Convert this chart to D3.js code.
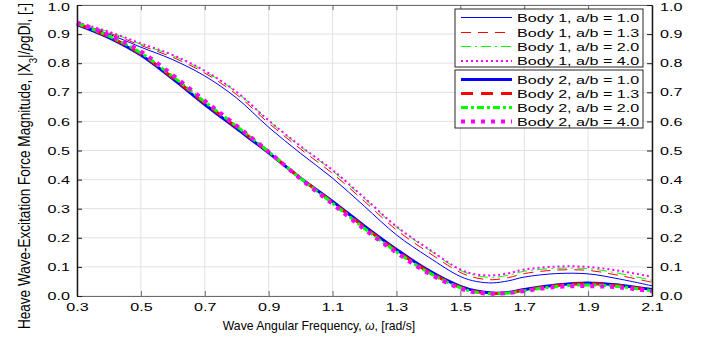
<!DOCTYPE html>
<html><head><meta charset="utf-8">
<script src="https://cdn.jsdelivr.net/npm/d3@7"></script>
<style>
html,body{margin:0;padding:0;background:#fff;}
svg{display:block;font-family:"Liberation Sans",Arial,Helvetica,sans-serif;}
</style></head>
<body><svg id="c" width="703" height="343"></svg>
<script>
// ---- data ----
const omega = [0.3,0.4,0.5,0.6,0.7,0.8,0.9,1.0,1.1,1.2,1.3,1.4,1.5,1.55,1.6,1.65,1.7,1.8,1.9,2.0,2.1];
// Body 1
const body1_ab10 = [0.935,0.900,0.855,0.812,0.756,0.680,0.580,0.490,0.405,0.308,0.210,0.134,0.067,0.050,0.045,0.052,0.065,0.077,0.076,0.058,0.035];
const body1_ab13 = [0.936,0.904,0.861,0.820,0.766,0.692,0.594,0.505,0.421,0.325,0.227,0.150,0.081,0.062,0.056,0.063,0.077,0.089,0.088,0.070,0.047];
const body1_ab20 = [0.938,0.907,0.865,0.826,0.772,0.700,0.602,0.513,0.430,0.334,0.237,0.160,0.088,0.070,0.064,0.071,0.085,0.095,0.094,0.077,0.054];
const body1_ab40 = [0.940,0.908,0.868,0.828,0.774,0.701,0.603,0.515,0.433,0.337,0.239,0.162,0.091,0.074,0.071,0.078,0.091,0.101,0.100,0.086,0.066];
// Body 2
const body2_ab10 = [0.933,0.888,0.828,0.746,0.658,0.575,0.492,0.405,0.325,0.240,0.160,0.088,0.033,0.017,0.010,0.012,0.022,0.038,0.045,0.037,0.022];
const body2_ab13 = [0.935,0.891,0.832,0.750,0.663,0.580,0.495,0.405,0.322,0.236,0.156,0.084,0.030,0.015,0.009,0.011,0.020,0.036,0.042,0.035,0.020];
const body2_ab20 = [0.937,0.893,0.835,0.754,0.667,0.583,0.496,0.404,0.319,0.232,0.152,0.081,0.028,0.013,0.008,0.010,0.018,0.033,0.038,0.032,0.018];
const body2_ab40 = [0.940,0.897,0.840,0.759,0.671,0.585,0.496,0.402,0.316,0.229,0.149,0.078,0.026,0.012,0.008,0.010,0.017,0.031,0.034,0.029,0.016];

const seriesNames = ["Body 1, a/b = 1.0","Body 1, a/b = 1.3","Body 1, a/b = 2.0","Body 1, a/b = 4.0",
                     "Body 2, a/b = 1.0","Body 2, a/b = 1.3","Body 2, a/b = 2.0","Body 2, a/b = 4.0"];
const seriesValues = [body1_ab10,body1_ab13,body1_ab20,body1_ab40,body2_ab10,body2_ab13,body2_ab20,body2_ab40];
const xTicks = [0.3,0.5,0.7,0.9,1.1,1.3,1.5,1.7,1.9,2.1];
const yTicks = [0.0,0.1,0.2,0.3,0.4,0.5,0.6,0.7,0.8,0.9,1.0];

// ---- styles ----
const styles = [
  {c:"#0000ff", w:1,   d:null},
  {c:"#ff0000", w:1,   d:"10,7"},
  {c:"#00ff00", w:1,   d:"10,4,2,4"},
  {c:"#ff00ff", w:2,   d:"2,3"},
  {c:"#0000ff", w:3,   d:null},
  {c:"#ff0000", w:3,   d:"12,8"},
  {c:"#00ff00", w:3,   d:"7,3,3,3"},
  {c:"#ff00ff", w:4,   d:"4,6"}
];

const SX = 1.4, FS = 11.5;
const L = 77, R = 652, T = 5, B = 296;
const svg = d3.select("#c");
const x = d3.scaleLinear().domain([0.3,2.1]).range([L,R]);
const y = d3.scaleLinear().domain([0,1]).range([B,T]);

// grid
const g = svg.append("g");
g.selectAll(".gx").data(xTicks).enter().append("line")
  .attr("x1",d=>x(d)).attr("x2",d=>x(d)).attr("y1",T).attr("y2",B)
  .attr("stroke","#e2e2e2").attr("stroke-width",1);
g.selectAll(".gy").data(yTicks).enter().append("line")
  .attr("x1",L).attr("x2",R).attr("y1",d=>y(d)).attr("y2",d=>y(d))
  .attr("stroke","#e2e2e2").attr("stroke-width",1);

// lines
const line = d3.line().x(d=>x(d[0])).y(d=>y(d[1])).curve(d3.curveCatmullRom.alpha(0.5));
seriesValues.forEach((vals,i)=>{
  const s = styles[i];
  svg.append("path").datum(omega.map((o,k)=>[o,vals[k]]))
    .attr("d",line).attr("fill","none")
    .attr("stroke",s.c).attr("stroke-width",s.w)
    .attr("stroke-dasharray",s.d);
});

// axes
function styleAxis(sel, color, lineW){
  sel.select(".domain").attr("stroke",color).attr("stroke-width",lineW);
  sel.selectAll(".tick line").attr("stroke",color);
  sel.selectAll(".tick text").attr("fill","#000").style("font-size",FS+"px")
     .style("font-family",'"Liberation Sans",Arial,sans-serif');
}
const fmt = d3.format(".1f");
const axB = svg.append("g").attr("transform",`translate(0,${B})`)
  .call(d3.axisBottom(x).tickValues(xTicks).tickFormat(fmt).tickSizeInner(-5).tickSizeOuter(0).tickPadding(6));
styleAxis(axB,"#6b6b6b",1);
axB.selectAll(".tick text").attr("transform",`scale(${SX},1)`).attr("y",7).attr("dy","0.71em");
const axT = svg.append("g").attr("transform",`translate(0,${T})`)
  .call(d3.axisTop(x).tickValues(xTicks).tickFormat("").tickSizeInner(-5).tickSizeOuter(0));
styleAxis(axT,"#6b6b6b",1);
const axL = svg.append("g").attr("transform",`translate(${L},0)`)
  .call(d3.axisLeft(y).tickValues(yTicks).tickFormat(fmt).tickSizeInner(-5).tickSizeOuter(0));
styleAxis(axL,"#1a1a1a",1.5);
axL.selectAll(".tick text").attr("transform",`scale(${SX},1)`).attr("x",-7/SX);
const axR = svg.append("g").attr("transform",`translate(${R},0)`)
  .call(d3.axisRight(y).tickValues(yTicks).tickFormat(fmt).tickSizeInner(-5).tickSizeOuter(0));
styleAxis(axR,"#1a1a1a",1.5);
axR.selectAll(".tick text").attr("transform",`scale(${SX},1)`).attr("x",8/SX);
// keep the top labels inside the picture
[axL,axR].forEach(a=>a.selectAll(".tick").filter(d=>d===1.0).select("text").attr("dy","0.5em"));

// x label (three pieces so the italic omega sits in between)
const xlParts = ["Wave Angular Frequency, ", "ω", ", [rad/s]"];
const xlFs = 12.2, xlY = 330;
const xlg = svg.append("g");
const pieces = xlParts.map((t,i)=>xlg.append("text").attr("y",xlY)
  .style("font-size",xlFs+"px").attr("fill","#000")
  .style("font-style", i===1 ? "italic" : "normal")
  .style("white-space","pre").attr("xml:space","preserve").text(t));
const widths = pieces.map(p=>p.node().getComputedTextLength());
const total = widths.reduce((a,b)=>a+b,0);
let cx = 319 - total/2;
pieces.forEach((p,i)=>{ p.attr("x",cx); cx += widths[i]; });

// y label
const yl = svg.append("text")
  .attr("transform",`translate(30,166) scale(1.3,1) rotate(-90)`)
  .attr("text-anchor","middle").style("font-size","12.5px").attr("fill","#000")
  .attr("textLength",326).attr("lengthAdjust","spacingAndGlyphs");
yl.append("tspan").text("Heave Wave-Excitation Force Magnitude, |X");
yl.append("tspan").attr("baseline-shift","sub").style("font-size","9px").text("3");
yl.append("tspan").text("|/");
yl.append("tspan").attr("font-style","italic").text("ρ");
yl.append("tspan").text("gDl, [-]");

// legend
const boxes = [{y:9,h:58,idx:[0,1,2,3],rows:[17.5,32.5,46.5,61]},{y:70,h:58,idx:[4,5,6,7],rows:[79.5,93.5,107.5,121.5]}];
boxes.forEach(b=>{
  const lg = svg.append("g");
  lg.append("rect").attr("x",455).attr("y",b.y).attr("width",188).attr("height",b.h)
    .attr("fill","#fff").attr("stroke","#262626").attr("stroke-width",1);
  b.idx.forEach((si,j)=>{
    const s = styles[si], yy = b.rows[j];
    lg.append("line").attr("x1",461).attr("x2",512).attr("y1",yy).attr("y2",yy)
      .attr("stroke",s.c).attr("stroke-width",s.w).attr("stroke-dasharray",s.d);
    lg.append("text").attr("transform",`translate(517,${yy}) scale(${SX},1)`)
      .attr("dy","0.36em").style("font-size",FS+"px").attr("fill","#000").text(seriesNames[si]);
  });
});
</script></body></html>
